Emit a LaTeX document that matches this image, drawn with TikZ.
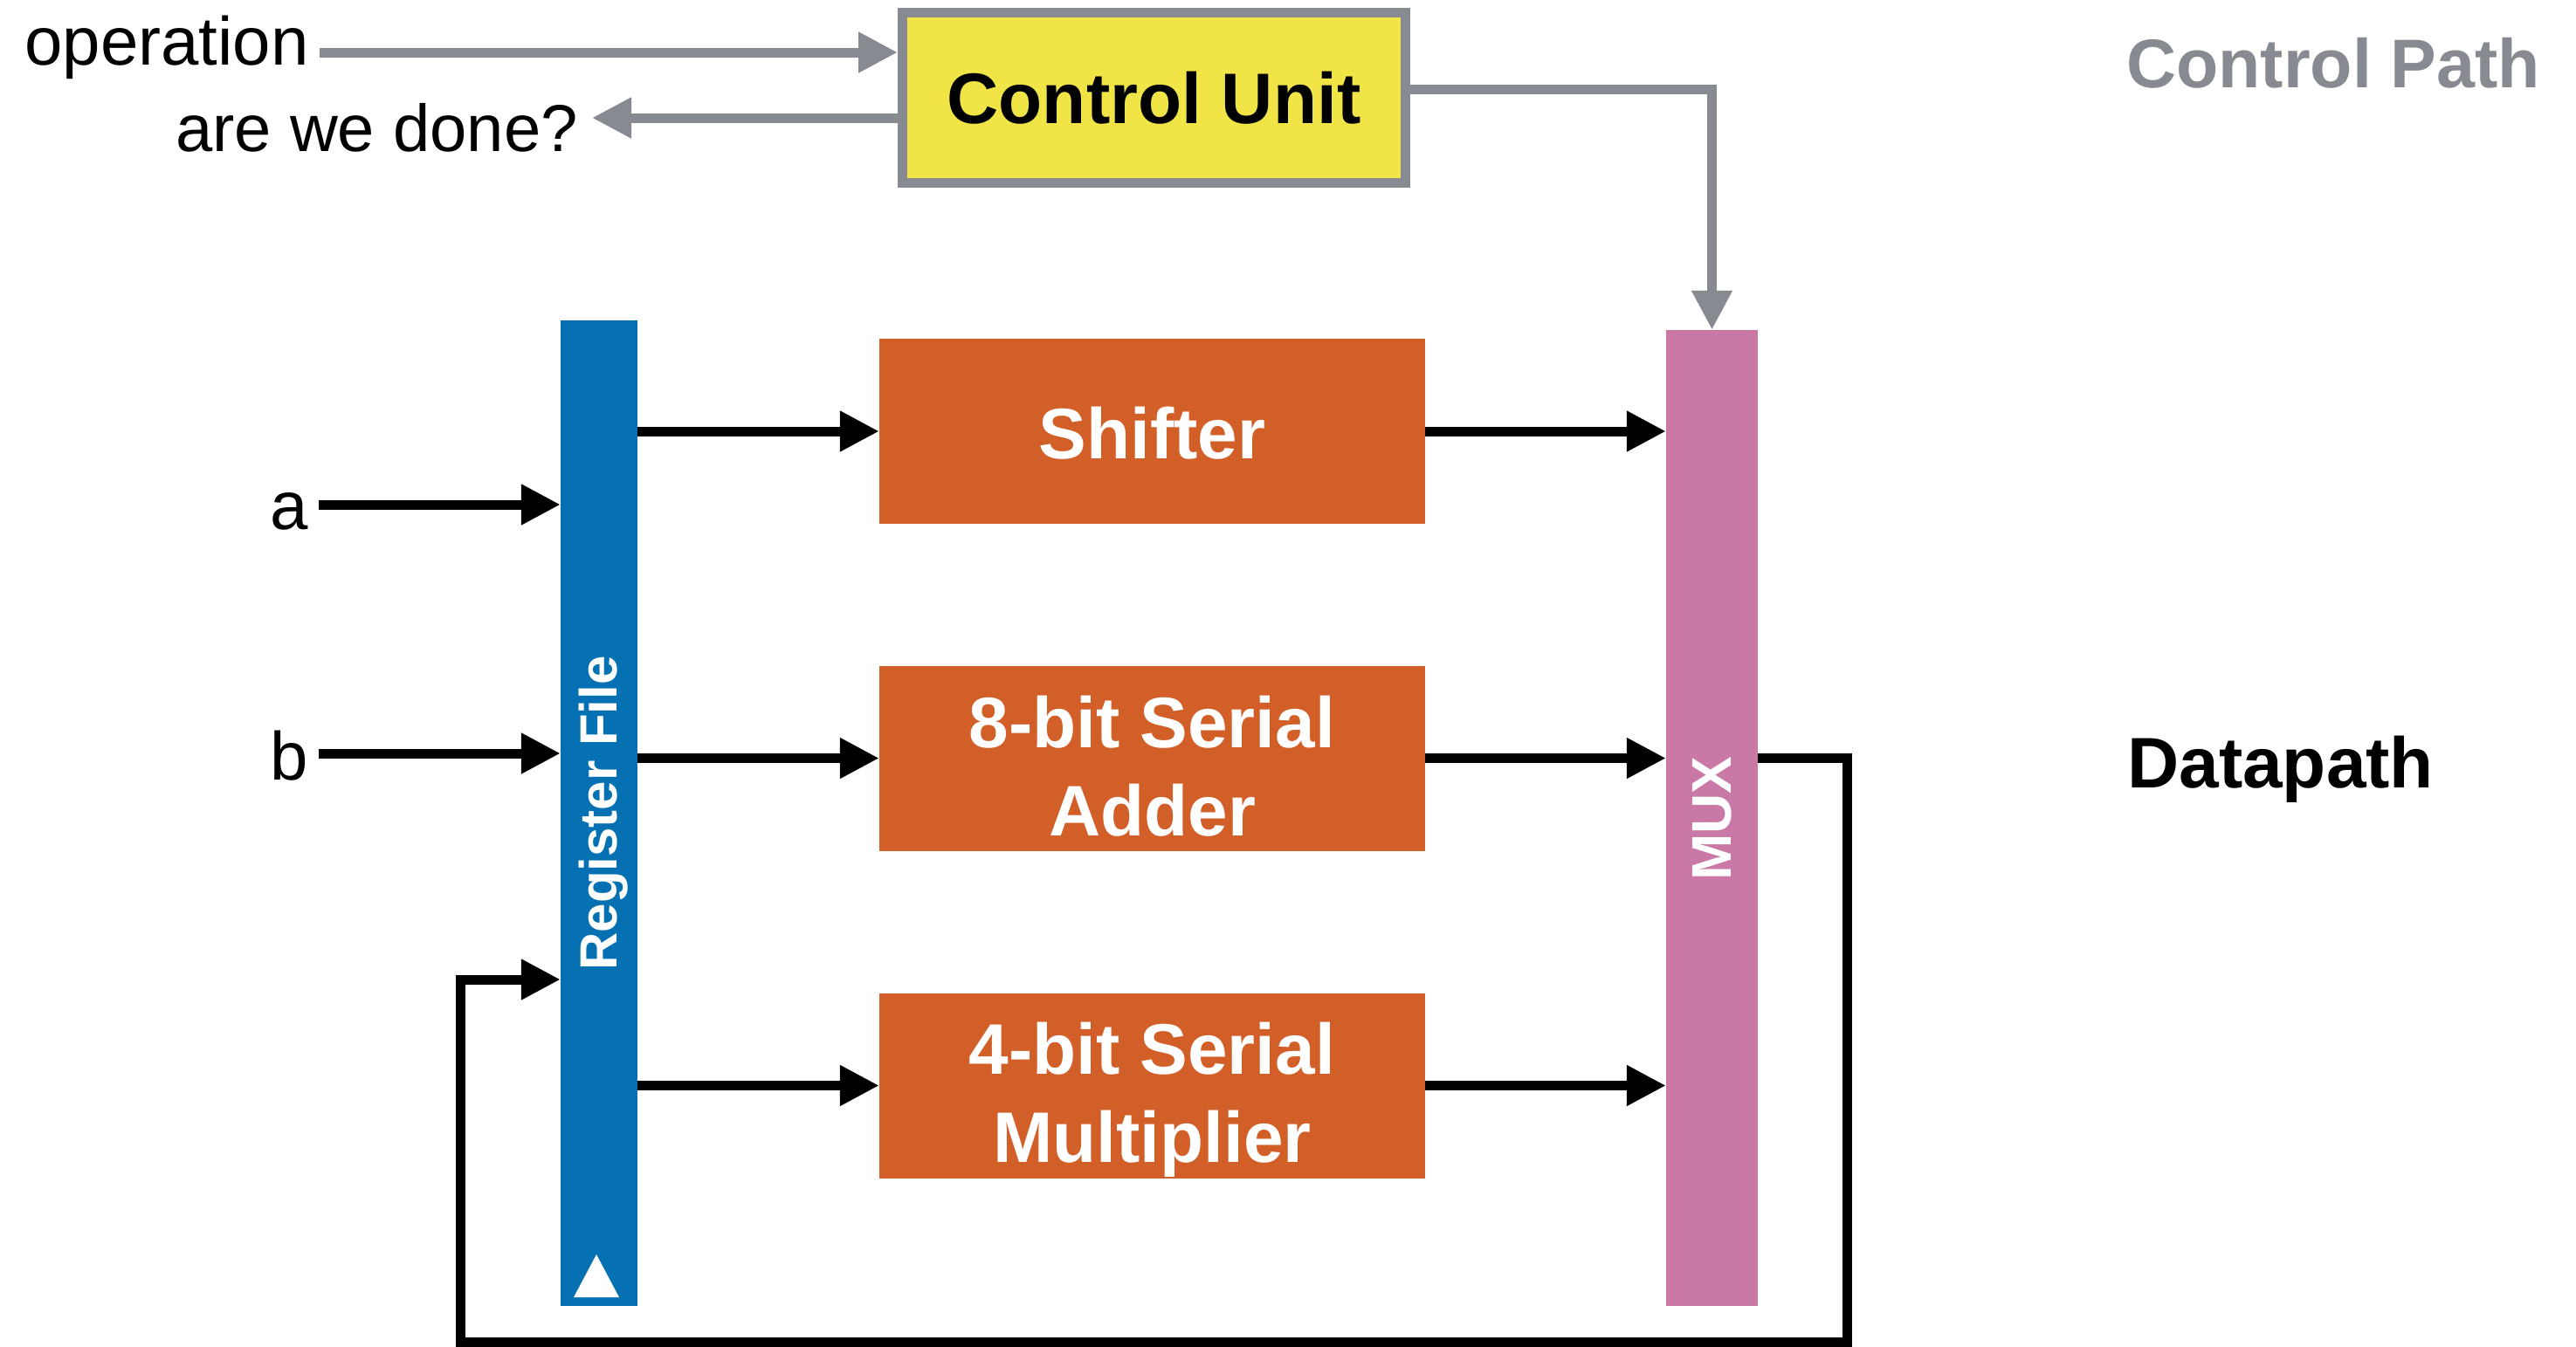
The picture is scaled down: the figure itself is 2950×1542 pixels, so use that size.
\documentclass[tikz,border=0pt]{standalone}
\usepackage{fontspec}
\setmainfont{Liberation Sans}
\usetikzlibrary{arrows.meta}
\definecolor{cuyellow}{RGB}{240,228,70}
\definecolor{ctlgray}{RGB}{135,138,144}
\definecolor{rfblue}{RGB}{5,113,179}
\definecolor{unitorange}{RGB}{210,95,39}
\definecolor{muxpink}{RGB}{202,120,166}

\begin{document}
\begin{tikzpicture}[x=1pt,y=-1pt,
  tip/.style={-{Triangle[length=45pt,width=44pt]}},
  ctlwire/.style={draw=ctlgray,line width=11pt,line join=miter},
  datawire/.style={draw=black,line width=11pt,line join=miter},
  unit/.style={fill=unitorange,minimum width=625pt,minimum height=212pt,inner sep=0pt},
  unittext/.style={inner sep=0pt,anchor=base,text=white,font=\fontsize{82}{101}\selectfont\bfseries},
  lbl/.style={inner ysep=0pt,font=\fontsize{78}{90}\selectfont},
  heading/.style={inner sep=0pt,anchor=base west,font=\fontsize{82}{90}\selectfont\bfseries},
]
\useasboundingbox (0,0) rectangle (2950,1542);

% control unit and its external signals
\node[draw=ctlgray,line width=11pt,fill=cuyellow,minimum width=576pt,minimum height=195pt,
      inner sep=0pt,font=\fontsize{82}{90}\selectfont\bfseries] (cu) at (1321.5,112) {Control Unit};
\node[lbl,inner xsep=12pt,anchor=base east] (op) at (366,74) {operation};
\node[lbl,inner xsep=16pt,anchor=base east,font=\fontsize{76}{90}\selectfont] (done) at (678,173) {are we done?};

% section headings
\node[heading,text=ctlgray,font=\fontsize{79}{90}\selectfont\bfseries] (cphead) at (2435,100) {Control Path};
\node[heading] (dphead) at (2436,902) {Datapath};

% register file
\node[fill=rfblue,minimum width=88pt,minimum height=1129pt,inner sep=0pt] (rf) at (686,931.5) {};
\node[rotate=90,text=white,inner sep=0pt,font=\fontsize{60}{70}\selectfont\bfseries] (rflabel) at (691.5,931.5) {Register File};
\fill[white] (683,1437) -- (657,1486) -- (709,1486) -- cycle;

% functional units
\node[unit] (sh) at (1319.5,494) {};
\node[unittext] (shlabel) at (1319.5,525) {Shifter};
\node[unit] (add) at (1319.5,868.5) {};
\node[unittext] (addlabelA) at (1319.5,856) {8-bit Serial};
\node[unittext] (addlabelB) at (1319.5,957) {Adder};
\node[unit] (mul) at (1319.5,1243.5) {};
\node[unittext] (mullabelA) at (1319.5,1230) {4-bit Serial};
\node[unittext] (mullabelB) at (1319.5,1331) {Multiplier};

% multiplexer
\node[fill=muxpink,minimum width=105pt,minimum height=1118pt,inner sep=0pt] (mux) at (1960.5,937) {};
\node[rotate=90,text=white,inner sep=0pt,font=\fontsize{64}{70}\selectfont\bfseries] (muxlabel) at (1961,937.5) {MUX};

% inputs a and b
\node[lbl,inner xsep=12pt,anchor=base east] (a) at (365,606) {a};
\node[lbl,inner xsep=12pt,anchor=base east] (b) at (365,893) {b};

% control path wires
\draw[ctlwire,tip] (op.east |- 0,60) -- (cu.west |- 0,60);
\draw[ctlwire,tip] (cu.west |- 0,135) -- (done.east |- 0,135);
\draw[ctlwire,tip] (cu.east |- 0,102) -- (mux.north |- 0,102) -- (mux.north);

% datapath wires
\draw[datawire,tip] (a.east |- 0,578) -- (rf.west |- 0,578);
\draw[datawire,tip] (b.east |- 0,863) -- (rf.west |- 0,863);
\draw[datawire,tip] (rf.east |- sh) -- (sh.west);
\draw[datawire,tip] (rf.east |- add) -- (add.west);
\draw[datawire,tip] (rf.east |- mul) -- (mul.west);
\draw[datawire,tip] (sh.east) -- (mux.west |- sh);
\draw[datawire,tip] (add.east) -- (mux.west |- add);
\draw[datawire,tip] (mul.east) -- (mux.west |- mul);

% result fed back into the register file
\coordinate (fbR) at (2115,1537);
\coordinate (fbL) at (527,1537);
\draw[datawire,tip] (mux.east |- add) -- (fbR |- add) -- (fbR) -- (fbL) -- (fbL |- 0,1122) -- (rf.west |- 0,1122);
\end{tikzpicture}
\end{document}
